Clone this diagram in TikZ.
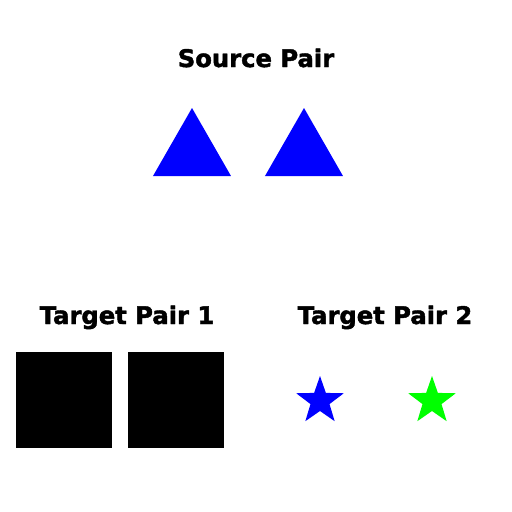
\documentclass[tikz,border=0pt]{standalone}
\usepackage{fontspec}
\setmainfont{DejaVu Sans}
\newfontfamily\heavyfont{DejaVu Sans Bold}[FakeBold=1.8]
\definecolor{pureblue}{RGB}{0,0,255}
\definecolor{puregreen}{RGB}{0,255,0}
\begin{document}
\begin{tikzpicture}[x=0.02cm,y=0.02cm,line join=round,every node/.style={inner sep=0pt,anchor=base,font=\fontsize{13.8}{15}\selectfont\heavyfont}]
  \useasboundingbox (0,0) rectangle (512,512);
  % 标题
  \node (src) at (256,445) {Source Pair};
  \node (tgta) at (127,188) {Target Pair 1};
  \node (tgtb) at (385,188) {Target Pair 2};
  % 三角形
  \foreach \x in {153,265} {
    \fill[pureblue] (\x,336) -- ({\x+78},336) -- ({\x+39},404) -- cycle;
  }
  % 方块
  \foreach \x in {16,128} {
    \fill (\x,64) rectangle ({\x+96},160);
  }
  % 星形
  \foreach \cx/\col in {320/pureblue,432/puregreen} {
    \begin{scope}[shift={(\cx,111)}]
      \fill[\col] (90:25) \foreach \k in {1,...,9} { -- ({90+36*\k}:{ifthenelse(isodd(\k),10,25)}) } -- cycle;
    \end{scope}
  }
\end{tikzpicture}
\end{document}
